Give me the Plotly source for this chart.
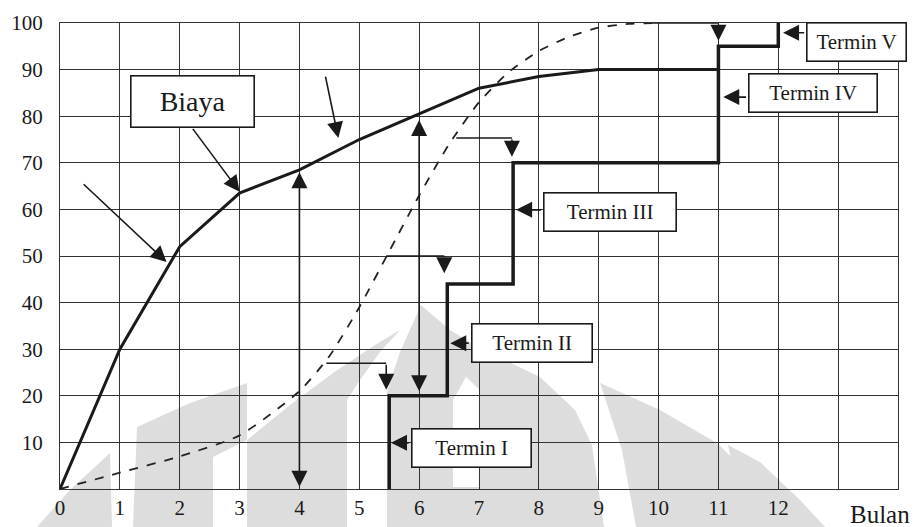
import plotly.graph_objects as go

# ---- data ----
months = [0, 1, 2, 3, 4, 5, 6, 7, 8, 9, 10, 11]
biaya = [0, 30, 52, 63.5, 68.5, 75, 80.5, 86, 88.5, 90, 90, 90]

s_x = [0, 1, 2, 3, 4, 4.5, 5, 5.5, 6, 6.5, 7, 7.5, 8, 8.5, 9, 9.5, 9.9]
s_y = [0, 3.5, 7, 11.5, 21, 28.5, 39, 51, 63, 74, 83, 89.5, 94, 97, 99, 99.8, 100]

step_x = [5.5, 5.5, 6.47, 6.47, 7.57, 7.57, 11, 11, 12, 12]
step_y = [0, 20, 20, 44, 44, 70, 70, 95, 95, 100]

# thin pointer lines from S-curve to payment steps
ptr_x = [[4.45, 5.45], [5.45, 6.42], [6.62, 7.55], [9.9, 11.0]]
ptr_y = [27, 50, 75.3, 100]
ptr_tip = [21.3, 46.3, 71.3, 96.2]

termin_labels = ["Termin I", "Termin II", "Termin III", "Termin IV", "Termin V"]
termin_cx = [6.87, 7.88, 9.19, 12.58, 13.31]
termin_cy = [8.9, 31.3, 59.4, 85.0, 95.9]
termin_w = [122, 123, 135, 131, 102]
termin_tip_x = [5.53, 6.52, 7.62, 11.08, 12.08]
termin_tip_y = [9.9, 31.3, 59.9, 84.1, 97.9]

x_ticks = list(range(0, 15))
x_ticktext = [str(v) if v <= 12 else "" for v in x_ticks]
y_ticks = list(range(0, 101, 10))
y_ticktext = [str(v) if v > 0 else "" for v in y_ticks]

FONT = "Liberation Serif"
INK = "#1a1a1a"
PX_X = 59.86   # px per month

# page geometry (the page body adds an 8px offset)
OFF = 8
PAGE_W, PAGE_H = 922, 527
W, H = PAGE_W - OFF, PAGE_H - OFF
PLOT_L, PLOT_R, PLOT_T, PLOT_B = 60, 898, 23, 489   # page px of plot area
L, R, T, B = PLOT_L - OFF, W - (PLOT_R - OFF), PLOT_T - OFF, H - (PLOT_B - OFF)
PW, PH = PLOT_R - PLOT_L, PLOT_B - PLOT_T

# faint background watermark (page-pixel outlines, converted to paper coords)
wm_gray = [
    [(37, 527), (70, 490), (110, 453), (112, 527)],
    [(133, 527), (137, 427), (190, 403), (247, 383), (247, 440), (213, 457), (213, 527)],
    [(247, 527), (247, 440), (290, 405), (333, 373), (375, 345), (400, 330), (380, 352),
     (360, 380), (347, 400), (347, 527)],
    [(387, 527), (387, 392), (400, 352), (421, 305), (450, 330), (483, 350), (540, 377),
     (575, 410), (592, 445), (604, 527)],
    [(600, 383), (660, 410), (717, 443), (760, 485), (790, 527), (636, 527), (622, 450)],
    [(728, 445), (760, 462), (800, 500), (825, 527), (748, 527), (736, 482)],
]
wm_white = [
    [(453, 487), (453, 400), (466, 377), (480, 390), (480, 487)],
]


def px_to_paper(px, py):
    return (px - PLOT_L) / PW, (PLOT_B - py) / PH


def to_path(pts):
    out = []
    for i, (px, py) in enumerate(pts):
        xp, yp = px_to_paper(px, py)
        out.append(("M" if i == 0 else "L") + f"{xp:.4f},{yp:.4f}")
    return " ".join(out) + " Z"


shapes = []
for poly in wm_gray:
    shapes.append(dict(type="path", path=to_path(poly), xref="paper", yref="paper",
                       fillcolor="#dddddd", line=dict(width=0), layer="below"))
for poly in wm_white:
    shapes.append(dict(type="path", path=to_path(poly), xref="paper", yref="paper",
                       fillcolor="white", line=dict(width=0), layer="below"))

fig = go.Figure()

fig.add_trace(go.Scatter(x=s_x, y=s_y, mode="lines",
                         line=dict(color="#222222", width=1.8, dash="dash", shape="spline", smoothing=0.6),
                         hoverinfo="skip", showlegend=False))
fig.add_trace(go.Scatter(x=months, y=biaya, mode="lines",
                         line=dict(color=INK, width=3),
                         hoverinfo="skip", showlegend=False))
fig.add_trace(go.Scatter(x=step_x, y=step_y, mode="lines",
                         line=dict(color=INK, width=3.5),
                         hoverinfo="skip", showlegend=False))
for px, py in zip(ptr_x, ptr_y):
    fig.add_trace(go.Scatter(x=px, y=[py, py], mode="lines",
                             line=dict(color=INK, width=1.5),
                             hoverinfo="skip", showlegend=False))

anns = []
arrow_common = dict(showarrow=True, text="", xref="x", yref="y", axref="x", ayref="y",
                    arrowcolor=INK, arrowwidth=1.6, arrowhead=2, arrowsize=2.0)

# down arrows of the pointer lines
for px, py, tip in zip(ptr_x, ptr_y, ptr_tip):
    anns.append(dict(x=px[1], y=tip, ax=px[1], ay=py, **arrow_common))

# double-headed vertical arrows
anns.append(dict(x=4, y=0.5, ax=4, ay=68.3, arrowside="end+start", **arrow_common))
anns.append(dict(x=6, y=21, ax=6, ay=79.5, arrowside="end+start", **arrow_common))

# diagonal arrows
anns.append(dict(x=1.78, y=48.7, ax=0.37, ay=65.7, **arrow_common))
anns.append(dict(x=3.0, y=63.8, ax=2.2, ay=77.6, **arrow_common))
anns.append(dict(x=4.65, y=75.3, ax=4.43, ay=88.8, **arrow_common))

# Termin boxes and their pointer arrows
for lab, cx, cy, w, tx, ty in zip(termin_labels, termin_cx, termin_cy, termin_w, termin_tip_x, termin_tip_y):
    left = cx - (w / 2) / PX_X
    anns.append(dict(x=tx, y=ty, ax=left, ay=ty, **arrow_common))
    anns.append(dict(x=cx, y=cy, xref="x", yref="y", text=lab, showarrow=False,
                     font=dict(family=FONT, size=21, color=INK),
                     bgcolor="white", bordercolor=INK, borderwidth=1.6, borderpad=0,
                     width=w - 4, height=37, xanchor="center", yanchor="middle", align="center"))

# Biaya box
anns.append(dict(x=2.21, y=83.2, xref="x", yref="y", text="Biaya", showarrow=False,
                 font=dict(family=FONT, size=28, color=INK),
                 bgcolor="white", bordercolor=INK, borderwidth=1.6, borderpad=0,
                 width=122, height=50, xanchor="center", yanchor="middle", align="center"))

# axis title "Bulan"
bx, by = px_to_paper(880, 514)
anns.append(dict(x=bx, y=by, xref="paper", yref="paper",
                 text="Bulan", showarrow=False,
                 font=dict(family=FONT, size=25, color=INK), xanchor="center", yanchor="middle"))

fig.update_layout(
    width=W, height=H,
    margin=dict(l=L, r=R, t=T, b=B, autoexpand=False),
    paper_bgcolor="white", plot_bgcolor="rgba(0,0,0,0)",
    annotations=anns, shapes=shapes,
    font=dict(family=FONT, color=INK),
)
fig.update_xaxes(range=[0, 14], tickvals=x_ticks, ticktext=x_ticktext, automargin=False,
                 showgrid=True, gridcolor="#333333", gridwidth=1.2, zeroline=False,
                 showline=True, linecolor="#333333", linewidth=1.2, mirror=True,
                 ticks="", ticklabelstandoff=0,
                 tickfont=dict(family=FONT, size=21, color=INK), fixedrange=True)
fig.update_yaxes(range=[0, 100], tickvals=y_ticks, ticktext=y_ticktext, automargin=False,
                 showgrid=True, gridcolor="#333333", gridwidth=1.2, zeroline=False,
                 showline=True, linecolor="#333333", linewidth=1.2, mirror=True,
                 ticks="", ticklabelstandoff=12,
                 tickfont=dict(family=FONT, size=21, color=INK), fixedrange=True)

fig.write_html("out.html")
